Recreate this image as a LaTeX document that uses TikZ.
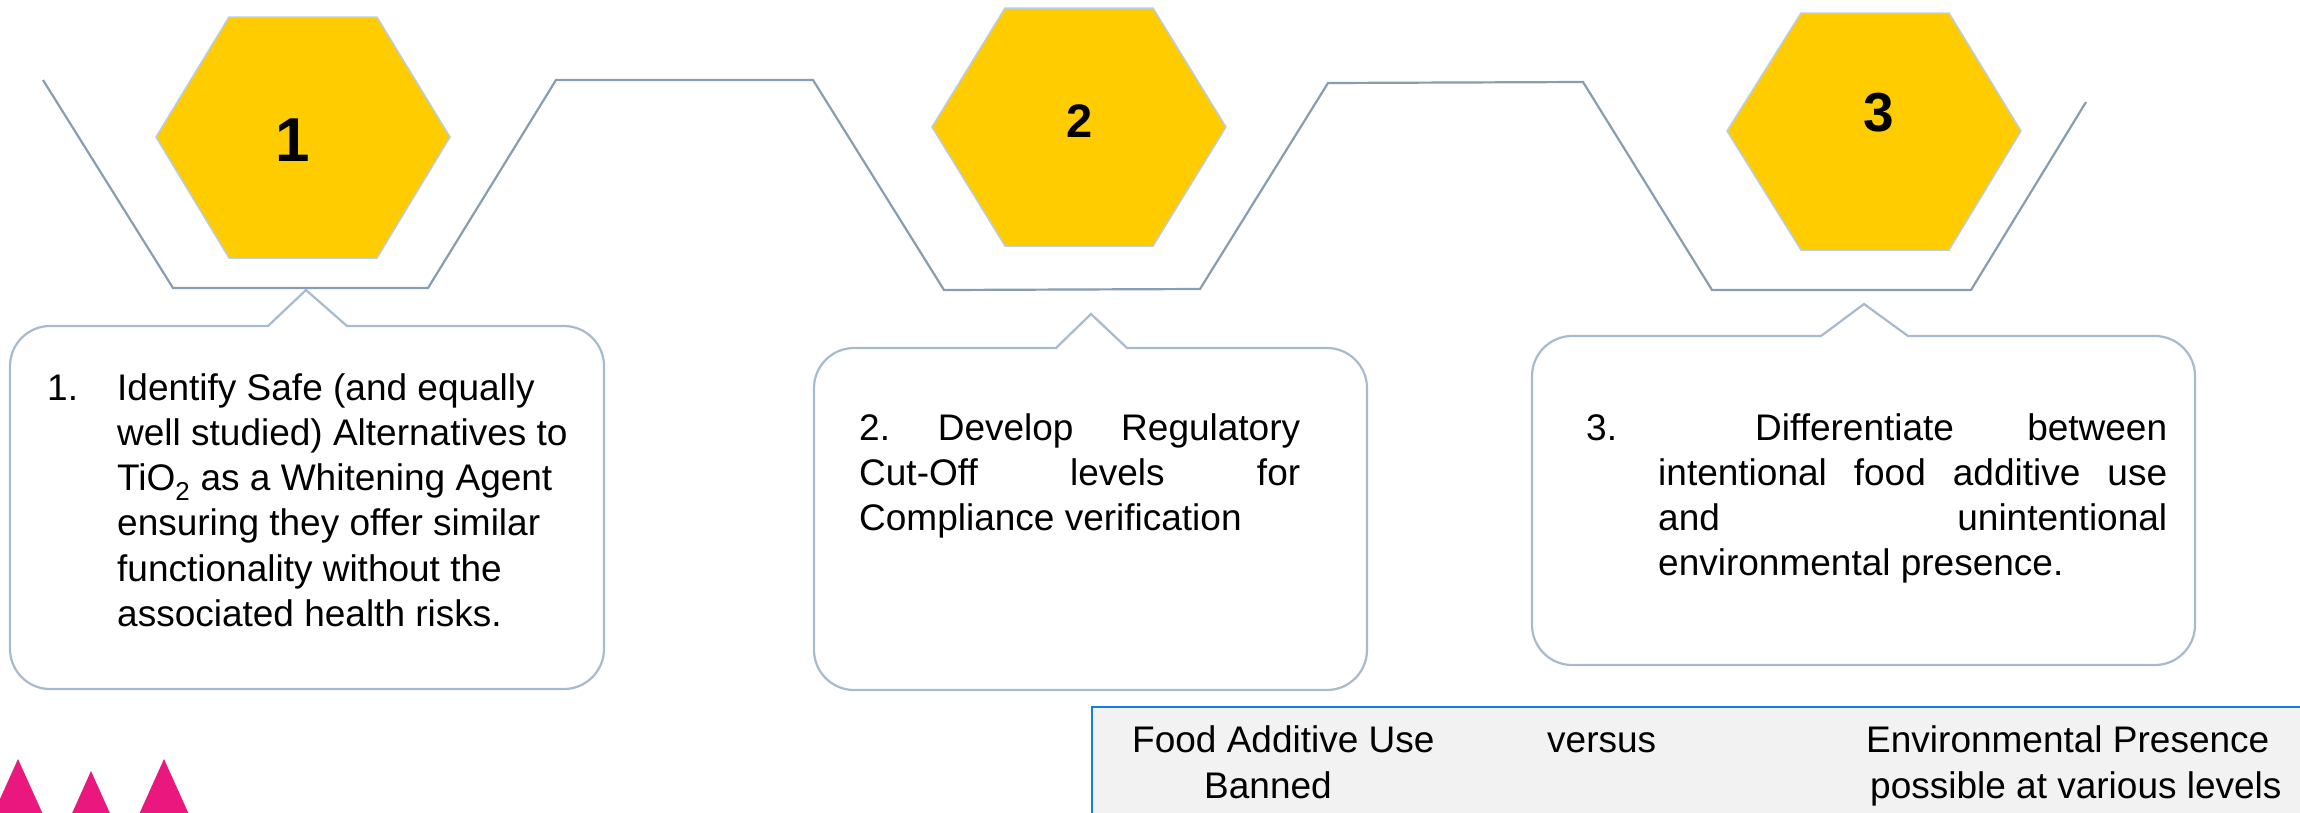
\documentclass[tikz,border=0pt]{standalone}
\usepackage{fontspec}
\setmainfont{Liberation Sans}

\definecolor{hexfill}{RGB}{255,204,0}
\definecolor{hexedge}{RGB}{185,205,228}
\definecolor{trackline}{RGB}{135,157,178}
\definecolor{calloutedge}{RGB}{168,187,206}
\definecolor{notefill}{RGB}{242,242,242}
\definecolor{noteedge}{RGB}{20,125,230}
\definecolor{marker}{RGB}{234,24,126}

\tikzset{
  hexagonshape/.style={fill=hexfill, draw=hexedge, line width=1.5pt},
  track/.style={draw=trackline, line width=2.2pt},
  calloutshape/.style={draw=calloutedge, line width=2.2pt, fill=white},
  hexnum/.style={inner sep=0pt},
  bodytext/.style={inner sep=0pt, anchor=base west, font=\fontsize{37}{45.3}\selectfont},
  notebox/.style={fill=notefill, draw=noteedge, line width=2.6pt},
  markertri/.style={fill=marker}
}

% rounded box with a pointer on its top edge
% #1 left, #2 top, #3 right, #4 bottom, #5/#6 pointer base, #7/#8 pointer tip
\newcommand\calloutpath[8]{%
  \draw[calloutshape] (#5,#2) -- (#7,#8) -- (#6,#2) -- ({#3-40},#2)
    .. controls ({#3-18},#2) and (#3,{#2+18}) .. (#3,{#2+40})
    -- (#3,{#4-40})
    .. controls (#3,{#4-18}) and ({#3-18},#4) .. ({#3-40},#4)
    -- ({#1+40},#4)
    .. controls ({#1+18},#4) and (#1,{#4-18}) .. (#1,{#4-40})
    -- (#1,{#2+40})
    .. controls (#1,{#2+18}) and ({#1+18},#2) .. ({#1+40},#2)
    -- cycle;}

\begin{document}
\begin{tikzpicture}[x=1pt,y=-1pt]
\useasboundingbox (0,0) rectangle (2300,812);
\begin{scope}
\clip (0,0) rectangle (2300,812);

% hexagons
\draw[hexagonshape] (156,137) -- (229,17) -- (377,17) -- (450,137) -- (377,258) -- (229,258) -- cycle;
\draw[hexagonshape] (932,127) -- (1005,8) -- (1153,8) -- (1226,127) -- (1153,246) -- (1005,246) -- cycle;
\draw[hexagonshape] (1727,131) -- (1801,13) -- (1949,13) -- (2021,131) -- (1949,250) -- (1801,250) -- cycle;

\node[hexnum, font=\bfseries\fontsize{62}{62}\selectfont] (numone) at (293,140) {1};
\node[hexnum, font=\bfseries\fontsize{47}{47}\selectfont] (numtwo) at (1080,121) {2};
\node[hexnum, font=\bfseries\fontsize{55}{55}\selectfont] (numthree) at (1879,113) {3};

% zigzag track under the hexagons
\draw[track] (43,80) -- (173,288) -- (428,288) -- (556,80) -- (813,80) -- (944,290)
  -- (1200,289) -- (1328,83) -- (1583,82) -- (1712,290) -- (1971,290) -- (2086,102);

% callout boxes
\calloutpath{10}{326}{604}{689}{268}{347}{306}{290}
\calloutpath{814}{348}{1367}{690}{1056}{1127}{1091}{314}
\calloutpath{1532}{336}{2195}{665}{1821}{1908}{1864}{304}

\node[bodytext] (stepone) at (47,400) {\vtop{%
  \hbox{\hbox to 70pt{1.\hfil}Identify Safe (and equally}%
  \hbox{\hskip70pt well studied) Alternatives to}%
  \hbox{\hskip70pt TiO\textsubscript{2} as a Whitening Agent}%
  \hbox{\hskip70pt ensuring they offer similar}%
  \hbox{\hskip70pt functionality without the}%
  \hbox{\hskip70pt associated health risks.}}};

\node[bodytext] (steptwo) at (859,440) {\vtop{%
  \hbox to 441pt{2.\hfill Develop\hfill Regulatory}%
  \hbox to 441pt{Cut-Off\hfill levels\hfill for}%
  \hbox{Compliance verification}}};

\node[bodytext] (stepthree) at (1586,440) {\vtop{%
  \hbox{\hbox to 169pt{3.\hfil}\hbox to 412pt{Differentiate\hfill between}}%
  \hbox{\hskip72pt\hbox to 509pt{intentional\hfill food\hfill additive\hfill use}}%
  \hbox{\hskip72pt\hbox to 509pt{and\hfill unintentional}}%
  \hbox{\hskip72pt environmental presence.}}};

% comparison strip
\draw[notebox] (1092,707) rectangle (2330,840);
\node[bodytext] (fooduse) at (1132,752) {Food Additive Use};
\node[bodytext] (banned) at (1204,798) {Banned};
\node[bodytext] (versus) at (1547,752) {versus};
\node[bodytext] (envpres) at (1866,752) {Environmental Presence};
\node[bodytext] (levels) at (1870,798) {possible at various levels};

% pink markers
\fill[markertri] (18,759) -- (45.5,820) -- (-9.5,820) -- cycle;
\fill[markertri] (91,771) -- (113,820) -- (69,820) -- cycle;
\fill[markertri] (164,759) -- (191.5,820) -- (136.5,820) -- cycle;
\end{scope}
\end{tikzpicture}
\end{document}
